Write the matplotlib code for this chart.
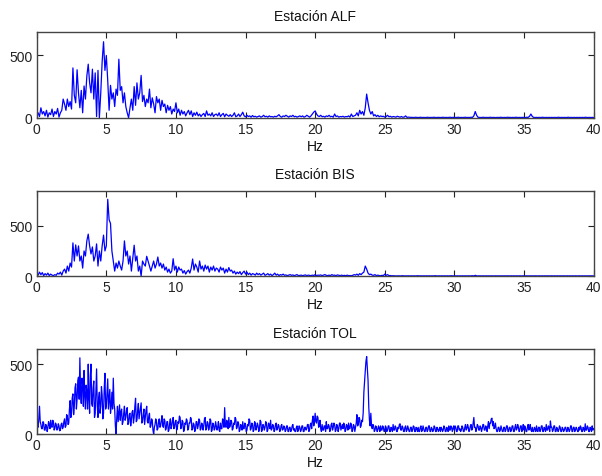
import numpy as np
import matplotlib
matplotlib.use("Agg")
import matplotlib.pyplot as plt

plt.rcParams['font.family'] = ['Liberation Sans', 'DejaVu Sans']

# Spectral amplitude.
# ALF / BIS: one row per Hz at 0.1 Hz steps (0.0 .. 0.9), last value at 40 Hz
alf_rows = [
    [20, 40, 10, 80, 30, 50, 15, 60, 5, 40],
    [25, 70, 10, 50, 30, 75, 5, 40, 60, 150],
    [110, 60, 150, 90, 130, 70, 400, 180, 120, 385],
    [200, 80, 220, 40, 255, 150, 335, 430, 280, 200],
    [390, 150, 360, 10, 380, 0, 200, 450, 610, 380],
    [500, 300, 60, 260, 150, 200, 90, 230, 180, 470],
    [220, 250, 120, 200, 90, 40, 0, 80, 150, 60],
    [250, 100, 280, 150, 200, 340, 130, 180, 90, 150],
    [120, 230, 80, 160, 110, 40, 170, 120, 150, 60],
    [140, 90, 110, 40, 100, 60, 90, 30, 70, 50],
    [120, 40, 70, 20, 60, 30, 50, 15, 40, 60],
    [25, 55, 10, 40, 20, 45, 15, 30, 10, 25],
    [35, 10, 55, 20, 30, 15, 40, 10, 25, 30],
    [15, 40, 10, 25, 35, 8, 30, 20, 12, 25],
    [10, 20, 40, 8, 15, 30, 10, 25, 45, 15],
    [8, 20, 10, 15, 5, 18, 8, 12, 5, 10],
    [15, 5, 10, 20, 8, 12, 5, 15, 8, 10],
    [5, 12, 8, 15, 25, 10, 5, 15, 10, 20],
    [12, 5, 15, 10, 20, 8, 12, 5, 10, 15],
    [8, 15, 5, 10, 20, 12, 5, 15, 30, 45],
    [55, 30, 15, 10, 20, 8, 12, 5, 15, 10],
    [20, 8, 12, 5, 30, 10, 15, 5, 10, 8],
    [12, 5, 10, 8, 15, 5, 30, 10, 15, 20],
    [40, 15, 60, 30, 50, 20, 80, 190, 120, 60],
    [30, 50, 15, 25, 10, 20, 8, 15, 10, 12],
    [5, 10, 20, 8, 12, 5, 10, 8, 5, 12],
    [8, 5, 10, 4, 6, 15, 3, 5, 4, 3],
    [3, 2, 4, 3, 2, 3, 4, 2, 3, 2],
    [3, 4, 2, 3, 2, 4, 3, 2, 3, 3],
    [2, 3, 4, 2, 3, 2, 3, 4, 2, 3],
    [3, 2, 3, 4, 2, 3, 2, 3, 4, 2],
    [3, 2, 4, 3, 15, 50, 20, 4, 3, 2],
    [3, 4, 2, 3, 2, 3, 4, 2, 3, 2],
    [2, 3, 2, 4, 3, 2, 3, 2, 4, 3],
    [3, 2, 3, 2, 4, 3, 2, 3, 2, 3],
    [3, 2, 4, 3, 12, 30, 10, 3, 2, 3],
    [2, 3, 2, 4, 3, 2, 3, 2, 3, 2],
    [3, 2, 3, 2, 3, 4, 2, 3, 2, 3],
    [2, 3, 4, 2, 3, 2, 3, 2, 3, 2],
    [3, 2, 3, 2, 4, 3, 2, 3, 2, 3],
]
alf_last = [2]

bis_rows = [
    [30, 10, 40, 15, 35, 5, 25, 10, 30, 5],
    [20, 10, 5, 15, 8, 30, 20, 40, 10, 50],
    [70, 30, 100, 50, 130, 90, 330, 150, 310, 200],
    [300, 150, 200, 80, 250, 200, 350, 417, 300, 220],
    [290, 150, 200, 320, 100, 250, 150, 300, 407, 250],
    [300, 763, 560, 523, 250, 150, 50, 130, 80, 150],
    [100, 60, 150, 350, 200, 250, 120, 200, 50, 180],
    [307, 150, 200, 50, 100, 0, 150, 120, 100, 197],
    [150, 100, 50, 100, 150, 80, 120, 190, 100, 130],
    [80, 120, 60, 90, 40, 70, 30, 50, 173, 60],
    [100, 40, 90, 60, 70, 30, 55, 20, 45, 60],
    [30, 80, 170, 60, 120, 90, 40, 150, 70, 100],
    [50, 110, 70, 100, 40, 90, 60, 100, 50, 80],
    [70, 40, 90, 60, 80, 30, 70, 40, 85, 50],
    [60, 30, 50, 20, 40, 25, 45, 15, 35, 50],
    [20, 40, 15, 30, 10, 25, 20, 10, 30, 15],
    [25, 10, 20, 30, 8, 15, 25, 10, 20, 5],
    [15, 30, 10, 20, 5, 15, 10, 20, 8, 12],
    [5, 10, 15, 8, 12, 5, 10, 15, 5, 8],
    [10, 5, 8, 12, 5, 10, 8, 5, 10, 6],
    [15, 5, 10, 8, 12, 5, 10, 15, 8, 5],
    [10, 5, 15, 8, 10, 5, 12, 8, 5, 10],
    [5, 8, 4, 10, 5, 6, 4, 8, 15, 10],
    [20, 8, 25, 15, 30, 40, 100, 70, 30, 15],
    [20, 10, 8, 15, 5, 10, 6, 4, 8, 5],
    [20, 8, 15, 5, 6, 3, 4, 3, 2, 3],
    [3, 2, 3, 4, 2, 3, 2, 3, 2, 3],
    [2, 3, 2, 3, 4, 2, 3, 2, 3, 2],
    [3, 2, 3, 2, 3, 2, 4, 3, 2, 3],
    [2, 3, 2, 3, 2, 3, 2, 3, 4, 2],
    [3, 2, 3, 2, 3, 2, 3, 2, 3, 2],
    [3, 2, 3, 4, 2, 8, 3, 2, 3, 2],
    [2, 3, 2, 3, 2, 3, 2, 3, 2, 3],
    [3, 2, 3, 2, 3, 2, 3, 2, 3, 2],
    [2, 3, 2, 3, 2, 3, 2, 3, 2, 3],
    [3, 2, 3, 2, 3, 2, 3, 2, 3, 2],
    [2, 3, 2, 3, 2, 3, 2, 3, 2, 3],
    [3, 2, 3, 2, 3, 2, 3, 2, 3, 2],
    [2, 3, 2, 3, 2, 3, 2, 3, 2, 3],
    [3, 2, 3, 2, 3, 2, 3, 2, 3, 2],
]
bis_last = [2]

# TOL: one row per Hz at 0.05 Hz steps (0.00 .. 0.95), last value at 40 Hz
tol_rows = [
    [120, 60, 50, 110, 200, 90, 70, 40, 40, 90, 80, 30, 30, 70, 60, 20, 45, 90, 70, 40],
    [100, 60, 50, 100, 90, 30, 40, 80, 70, 30, 35, 75, 60, 25, 30, 70, 80, 40, 50, 90],
    [110, 50, 60, 140, 130, 70, 80, 180, 240, 120, 150, 260, 288, 140, 200, 330, 360, 180, 250, 380],
    [407, 250, 545, 300, 220, 400, 350, 200, 455, 280, 180, 350, 300, 180, 500, 250, 150, 420, 500, 220],
    [200, 330, 380, 120, 150, 300, 466, 200, 120, 260, 300, 150, 200, 340, 280, 110, 150, 330, 435, 180],
    [200, 300, 395, 180, 250, 320, 150, 200, 300, 180, 400, 220, 180, 60, 0, 120, 200, 90, 150, 210],
    [100, 160, 180, 70, 90, 150, 200, 100, 120, 170, 190, 70, 80, 140, 150, 60, 100, 160, 170, 80],
    [120, 200, 257, 90, 100, 170, 220, 110, 150, 190, 224, 80, 90, 140, 180, 70, 120, 170, 200, 90],
    [80, 130, 150, 50, 60, 110, 100, 30, 0, 50, 70, 110, 90, 30, 40, 90, 110, 50, 60, 100],
    [133, 60, 50, 110, 100, 30, 40, 90, 90, 20, 30, 80, 110, 40, 60, 100, 120, 40, 50, 90],
    [100, 30, 40, 90, 80, 130, 120, 40, 50, 100, 90, 20, 30, 80, 70, 110, 100, 30, 40, 80],
    [80, 120, 110, 30, 40, 80, 70, 20, 30, 90, 90, 40, 60, 110, 100, 30, 40, 80, 70, 30],
    [60, 110, 120, 30, 40, 90, 80, 30, 50, 110, 100, 20, 30, 80, 70, 30, 40, 90, 60, 30],
    [50, 90, 30, 20, 80, 40, 40, 110, 100, 50, 190, 60, 50, 100, 80, 40, 120, 50, 60, 100],
    [90, 30, 40, 80, 70, 120, 110, 40, 50, 90, 80, 20, 30, 70, 60, 30, 90, 40, 40, 80],
    [70, 20, 30, 70, 60, 110, 100, 30, 40, 80, 70, 20, 30, 90, 80, 30, 50, 80, 60, 20],
    [40, 100, 90, 20, 30, 70, 60, 30, 50, 90, 80, 20, 30, 80, 70, 40, 100, 30, 40, 70],
    [60, 20, 30, 70, 80, 30, 40, 70, 60, 20, 25, 60, 70, 30, 35, 60, 50, 20, 30, 60],
    [60, 20, 20, 50, 50, 20, 30, 60, 70, 30, 40, 20, 20, 50, 60, 20, 30, 60, 50, 20],
    [30, 60, 60, 20, 20, 50, 50, 30, 40, 70, 70, 20, 30, 70, 80, 40, 100, 130, 60, 90],
    [150, 90, 80, 130, 120, 50, 60, 100, 40, 20, 70, 30, 30, 60, 60, 20, 90, 40, 40, 70],
    [60, 20, 30, 70, 80, 30, 50, 80, 70, 20, 30, 70, 60, 20, 40, 80, 80, 30, 50, 70],
    [40, 80, 70, 20, 30, 70, 60, 30, 80, 40, 40, 80, 70, 20, 30, 70, 60, 20, 50, 80],
    [140, 60, 70, 120, 110, 50, 60, 100, 90, 150, 300, 380, 450, 520, 554, 470, 383, 200, 100, 60],
    [150, 60, 40, 70, 60, 20, 30, 60, 50, 20, 30, 60, 45, 20, 60, 30, 30, 60, 50, 20],
    [25, 60, 50, 20, 30, 60, 60, 20, 20, 50, 40, 20, 70, 30, 30, 60, 50, 20, 20, 50],
    [40, 70, 75, 30, 30, 60, 50, 20, 20, 50, 60, 20, 30, 60, 40, 20, 20, 50, 50, 20],
    [30, 60, 55, 20, 20, 50, 40, 20, 50, 20, 20, 50, 60, 20, 30, 60, 40, 20, 20, 50],
    [50, 20, 30, 60, 60, 20, 20, 50, 40, 20, 30, 60, 50, 20, 20, 50, 40, 20, 30, 50],
    [20, 50, 40, 20, 30, 60, 50, 20, 20, 50, 40, 20, 60, 30, 30, 60, 50, 20, 40, 60],
    [30, 60, 50, 20, 20, 60, 60, 30, 40, 20, 30, 60, 50, 20, 20, 50, 70, 30, 40, 70],
    [50, 20, 30, 60, 70, 30, 40, 80, 120, 50, 50, 20, 40, 70, 60, 30, 30, 60, 50, 20],
    [40, 70, 70, 30, 30, 60, 50, 20, 60, 90, 40, 80, 80, 110, 115, 60, 90, 40, 50, 80],
    [40, 20, 20, 50, 50, 20, 30, 60, 40, 20, 20, 50, 50, 20, 30, 60, 60, 20, 20, 50],
    [50, 20, 30, 60, 60, 20, 20, 50, 70, 30, 40, 70, 50, 20, 30, 60, 60, 20, 40, 70],
    [30, 60, 50, 20, 20, 50, 70, 30, 40, 70, 30, 20, 50, 20, 20, 50, 40, 20, 60, 30],
    [20, 50, 50, 20, 30, 60, 60, 20, 20, 50, 40, 20, 70, 30, 30, 60, 50, 20, 95, 50],
    [50, 20, 30, 60, 60, 20, 20, 50, 40, 20, 30, 60, 50, 20, 20, 50, 40, 20, 30, 50],
    [50, 20, 20, 50, 40, 20, 30, 60, 60, 20, 20, 50, 50, 20, 30, 50, 40, 20, 20, 50],
    [30, 60, 50, 20, 20, 50, 40, 20, 75, 30, 30, 60, 50, 20, 20, 50, 40, 20, 60, 30],
]
tol_last = [40]

alf = np.array(sum(alf_rows, []) + alf_last, dtype=float)
bis = np.array(sum(bis_rows, []) + bis_last, dtype=float)
tol = np.array(sum(tol_rows, []) + tol_last, dtype=float)

# Frequency axes (Hz)
freq_alf = np.arange(len(alf)) * 0.1
freq_bis = np.arange(len(bis)) * 0.1
freq_tol = np.arange(len(tol)) * 0.05

titles = ['Estación ALF', 'Estación BIS', 'Estación TOL']
ylims = [685, 850, 605]
xticks = [0, 5, 10, 15, 20, 25, 30, 35, 40]
yticks = [0, 500]

fig = plt.figure(figsize=(6.02, 4.77), dpi=100)
positions = [
    [0.061, 0.751, 0.925, 0.179],
    [0.061, 0.419, 0.925, 0.1795],
    [0.061, 0.0874, 0.925, 0.178],
]
series = [(freq_alf, alf), (freq_bis, bis), (freq_tol, tol)]
for pos, (fx, data), title, ymax in zip(positions, series, titles, ylims):
    ax = fig.add_axes(pos)
    ax.plot(fx, data, color='#0000ff', lw=0.9)
    ax.set_xlim(0, 40)
    ax.set_ylim(0, ymax)
    ax.set_xticks(xticks)
    ax.set_yticks(yticks)
    ax.tick_params(direction='in', top=True, right=True, length=4,
                   width=0.8, labelsize=10, pad=3, colors='#222222')
    for s in ax.spines.values():
        s.set_color('#444444')
        s.set_linewidth(1.0)
    ax.set_title(title, fontsize=10, pad=9, color='#111111')
    ax.set_xlabel('Hz', fontsize=10, labelpad=2, color='#111111')

fig.savefig('out.png', dpi=100)
